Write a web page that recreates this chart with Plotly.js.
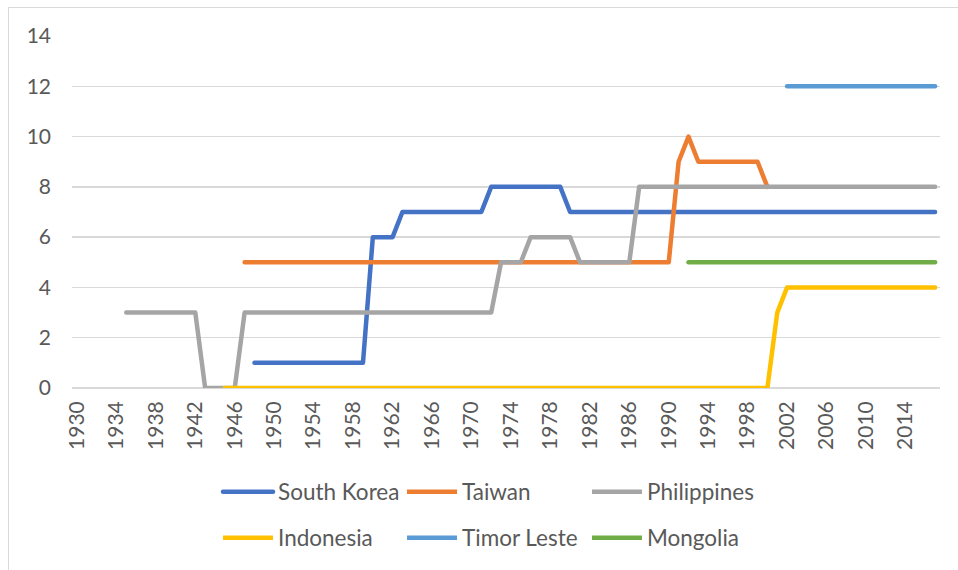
<!DOCTYPE html>
<html>
<head>
<meta charset="utf-8">
<script src="https://cdn.plot.ly/plotly-3.0.1.min.js"></script>
<style>
  html, body { margin: 0; padding: 0; background: #fff; }
  #wrap { position: relative; width: 958px; height: 570px; overflow: hidden; }
  #chart { position: absolute; left: 0; top: 0; width: 958px; height: 570px; }
  #frame { position: absolute; left: 8px; top: 7px; width: 2000px; height: 2000px;
           border-left: 1px solid #d9d9d9; border-top: 1px solid #d9d9d9; pointer-events: none; }
  .scatterlayer path.js-line, .legend path.js-line { stroke-linecap: round; stroke-linejoin: round; }
</style>
</head>
<body>
<div id="wrap"><div id="chart"></div><div id="frame"></div></div>
<script>
const years = [1930,1931,1932,1933,1934,1935,1936,1937,1938,1939,
  1940,1941,1942,1943,1944,1945,1946,1947,1948,1949,
  1950,1951,1952,1953,1954,1955,1956,1957,1958,1959,
  1960,1961,1962,1963,1964,1965,1966,1967,1968,1969,
  1970,1971,1972,1973,1974,1975,1976,1977,1978,1979,
  1980,1981,1982,1983,1984,1985,1986,1987,1988,1989,
  1990,1991,1992,1993,1994,1995,1996,1997,1998,1999,
  2000,2001,2002,2003,2004,2005,2006,2007,2008,2009,
  2010,2011,2012,2013,2014,2015,2016,2017];
const _ = null;
// one row per decade: 1930s, 1940s, ..., 2010-2017
const southKorea = [
  _,_,_,_,_,_,_,_,_,_,
  _,_,_,_,_,_,_,_,1,1,
  1,1,1,1,1,1,1,1,1,1,
  6,6,6,7,7,7,7,7,7,7,
  7,7,8,8,8,8,8,8,8,8,
  7,7,7,7,7,7,7,7,7,7,
  7,7,7,7,7,7,7,7,7,7,
  7,7,7,7,7,7,7,7,7,7,
  7,7,7,7,7,7,7,7];
// after 2000 Taiwan runs under the Philippines line at 8 (not visible)
const taiwan = [
  _,_,_,_,_,_,_,_,_,_,
  _,_,_,_,_,_,_,5,5,5,
  5,5,5,5,5,5,5,5,5,5,
  5,5,5,5,5,5,5,5,5,5,
  5,5,5,5,5,5,5,5,5,5,
  5,5,5,5,5,5,5,5,5,5,
  5,9,10,9,9,9,9,9,9,9,
  8,_,_,_,_,_,_,_,_,_,
  _,_,_,_,_,_,_,_];
const philippines = [
  _,_,_,_,_,3,3,3,3,3,
  3,3,3,0,0,0,0,3,3,3,
  3,3,3,3,3,3,3,3,3,3,
  3,3,3,3,3,3,3,3,3,3,
  3,3,3,5,5,5,6,6,6,6,
  6,5,5,5,5,5,5,8,8,8,
  8,8,8,8,8,8,8,8,8,8,
  8,8,8,8,8,8,8,8,8,8,
  8,8,8,8,8,8,8,8];
const indonesia = [
  _,_,_,_,_,_,_,_,_,_,
  _,_,_,_,_,0,0,0,0,0,
  0,0,0,0,0,0,0,0,0,0,
  0,0,0,0,0,0,0,0,0,0,
  0,0,0,0,0,0,0,0,0,0,
  0,0,0,0,0,0,0,0,0,0,
  0,0,0,0,0,0,0,0,0,0,
  0,3,4,4,4,4,4,4,4,4,
  4,4,4,4,4,4,4,4];
const timorLeste = [
  _,_,_,_,_,_,_,_,_,_,
  _,_,_,_,_,_,_,_,_,_,
  _,_,_,_,_,_,_,_,_,_,
  _,_,_,_,_,_,_,_,_,_,
  _,_,_,_,_,_,_,_,_,_,
  _,_,_,_,_,_,_,_,_,_,
  _,_,_,_,_,_,_,_,_,_,
  _,_,12,12,12,12,12,12,12,12,
  12,12,12,12,12,12,12,12];
const mongolia = [
  _,_,_,_,_,_,_,_,_,_,
  _,_,_,_,_,_,_,_,_,_,
  _,_,_,_,_,_,_,_,_,_,
  _,_,_,_,_,_,_,_,_,_,
  _,_,_,_,_,_,_,_,_,_,
  _,_,_,_,_,_,_,_,_,_,
  _,_,5,5,5,5,5,5,5,5,
  5,5,5,5,5,5,5,5,5,5,
  5,5,5,5,5,5,5,5];
const seriesNames = ['South Korea','Taiwan','Philippines','Indonesia','Timor Leste','Mongolia'];
const seriesData = [southKorea, taiwan, philippines, indonesia, timorLeste, mongolia];
const seriesColors = ['#4472C4','#ED7D31','#A5A5A5','#FFC000','#5B9BD5','#70AD47'];
const legendIds = ['legend','legend2','legend3','legend4','legend5','legend6'];

const FONT = 'Lato, "Open Sans", sans-serif';
const TXT = '#595959';

const traces = seriesNames.map((n, i) => ({
  type: 'scatter', mode: 'lines', name: n, x: years, y: seriesData[i],
  connectgaps: false,
  line: { color: seriesColors[i], width: 4.5 },
  legend: legendIds[i], hoverinfo: 'skip'
}));

const colX = [0.1682, 0.3802, 0.5933];
const rowY = [-0.2918, -0.4221];
function legendAt(col, row) {
  return { x: colX[col], y: rowY[row], xanchor: 'left', yanchor: 'middle',
           orientation: 'v', bgcolor: 'rgba(0,0,0,0)', borderwidth: 0, itemwidth: 50,
           font: { family: FONT, size: 22.5, color: TXT } };
}

const layout = {
  width: 958, height: 570,
  margin: { l: 72, r: 18, t: 36, b: 181 },
  paper_bgcolor: '#fff', plot_bgcolor: '#fff',
  font: { family: FONT, size: 21, color: TXT },
  showlegend: true,
  legend: legendAt(0, 0),
  legend2: legendAt(1, 0),
  legend3: legendAt(2, 0),
  legend4: legendAt(0, 1),
  legend5: legendAt(1, 1),
  legend6: legendAt(2, 1),
  xaxis: {
    type: 'linear', range: [1929.5, 2017.5], tick0: 1930, dtick: 4,
    tickangle: -90, showgrid: false, zeroline: false, showline: false,
    ticks: '', ticklabelstandoff: 8,
    tickfont: { family: FONT, size: 21, color: TXT }, fixedrange: true
  },
  yaxis: {
    range: [0, 14], dtick: 2, tick0: 0, showgrid: true, gridcolor: '#d9d9d9', gridwidth: 1.3,
    zeroline: true, zerolinecolor: '#d9d9d9', zerolinewidth: 1.3, showline: false,
    ticks: '', ticklabelstandoff: 20,
    tickfont: { family: FONT, size: 21, color: TXT }, fixedrange: true
  }
};

Plotly.newPlot('chart', traces, layout, { staticPlot: true, displayModeBar: false });
</script>
</body>
</html>
